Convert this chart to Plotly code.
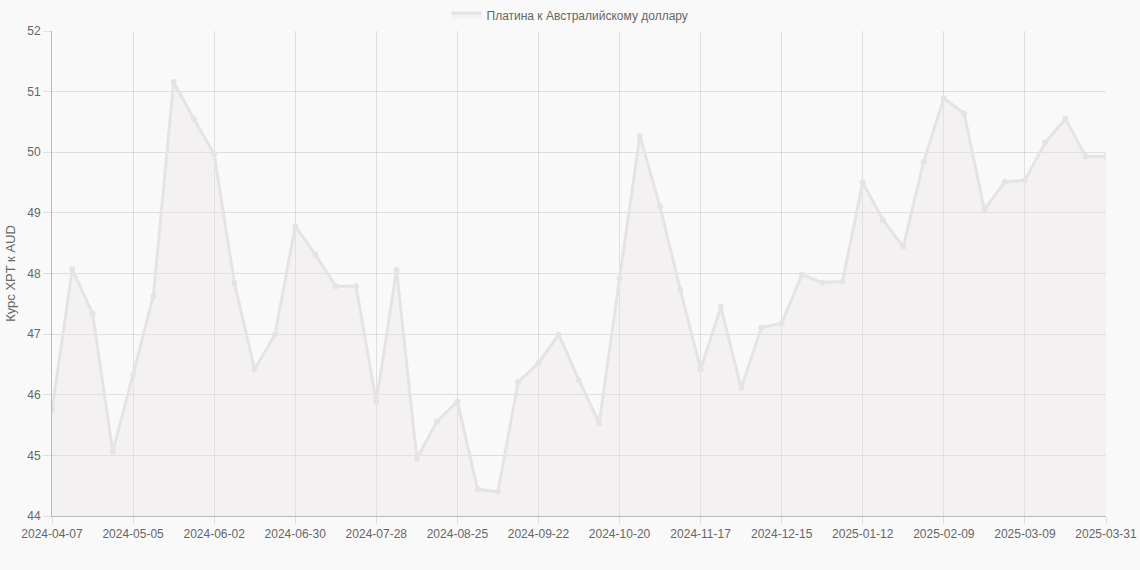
import plotly.graph_objs as go

# Weekly dates (category labels)
dates = [
    '2024-04-07', '2024-04-14', '2024-04-21', '2024-04-28', '2024-05-05', '2024-05-12',
    '2024-05-19', '2024-05-26', '2024-06-02', '2024-06-09', '2024-06-16', '2024-06-23',
    '2024-06-30', '2024-07-07', '2024-07-14', '2024-07-21', '2024-07-28', '2024-08-04',
    '2024-08-11', '2024-08-18', '2024-08-25', '2024-09-01', '2024-09-08', '2024-09-15',
    '2024-09-22', '2024-09-29', '2024-10-06', '2024-10-13', '2024-10-20', '2024-10-27',
    '2024-11-03', '2024-11-10', '2024-11-17', '2024-11-24', '2024-12-01', '2024-12-08',
    '2024-12-15', '2024-12-22', '2024-12-29', '2025-01-05', '2025-01-12', '2025-01-19',
    '2025-01-26', '2025-02-02', '2025-02-09', '2025-02-16', '2025-02-23', '2025-03-02',
    '2025-03-09', '2025-03-16', '2025-03-23', '2025-03-30', '2025-03-31',
]

# XPT/AUD rate
rates = [
    45.75, 48.07, 47.34, 45.06, 46.33, 47.63, 51.16, 50.55, 49.97, 47.84,
    46.42, 46.99, 48.78, 48.31, 47.79, 47.79, 45.88, 48.06, 44.95, 45.56,
    45.89, 44.44, 44.40, 46.21, 46.52, 46.99, 46.24, 45.53, 47.92, 50.27,
    49.10, 47.73, 46.42, 47.45, 46.11, 47.11, 47.18, 47.98, 47.85, 47.87,
    49.50, 48.88, 48.44, 49.84, 50.89, 50.64, 49.05, 49.51, 49.54, 50.16,
    50.55, 49.93, 49.93,
]

series_name = 'Платина к Австралийскому доллару'
tick_labels = dates[::4] + [dates[-1]]

line_col = 'rgb(230,227,227)'
fill_col = 'rgba(235,225,228,0.35)'
grid_col = 'rgba(0,0,0,0.1)'

fig = go.Figure()
fig.add_trace(go.Scatter(
    x=dates, y=rates, mode='lines+markers', name=series_name,
    line=dict(color=line_col, width=3),
    marker=dict(color=line_col, size=6),
    fill='tozeroy', fillcolor=fill_col, showlegend=False,
))
# legend entry only (box swatch like the original)
fig.add_trace(go.Scatter(
    x=[None], y=[None], mode='lines', name=series_name,
    line=dict(color=line_col, width=3), fill='toself', fillcolor=fill_col,
))

fig.update_layout(
    width=1140, height=570,
    paper_bgcolor='#f9f9f9', plot_bgcolor='#f9f9f9',
    font=dict(family='Liberation Sans, Arial, sans-serif', size=12, color='#666'),
    margin=dict(l=52, r=34, t=31, b=54, autoexpand=False),
    showlegend=True,
    legend=dict(orientation='h', x=0.5, xanchor='center', xref='container',
                y=1 - 15 / 570, yanchor='middle', yref='container',
                bgcolor='rgba(0,0,0,0)', font=dict(size=12, color='#666')),
    xaxis=dict(
        type='category', range=[0, len(dates) - 1], automargin=False,
        tickmode='array', tickvals=tick_labels, ticktext=tick_labels,
        showgrid=True, gridcolor=grid_col, ticks='outside', ticklen=7,
        tickcolor=grid_col, showline=True, linecolor='rgba(0,0,0,0.25)',
        zeroline=False, tickangle=0,
    ),
    yaxis=dict(
        range=[44, 52], dtick=1, showgrid=True, gridcolor=grid_col, automargin=False,
        ticks='outside', ticklen=8, tickcolor=grid_col,
        showline=True, linecolor='rgba(0,0,0,0.25)', zeroline=False,
        title=dict(text='Курс XPT к AUD', font=dict(size=13, color='#666'), standoff=8),
    ),
)

fig.write_html("out.html", config={'displayModeBar': False},
               post_script="document.body.style.margin='0';")
